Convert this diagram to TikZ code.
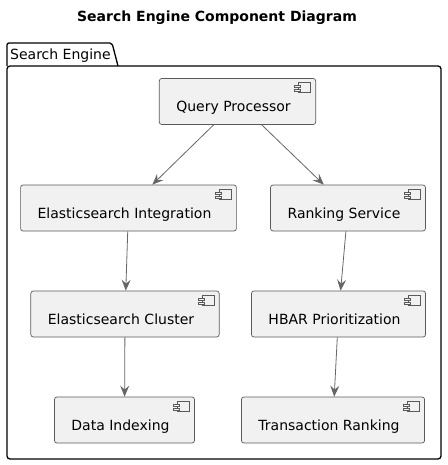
\documentclass[tikz,border=0pt]{standalone}
\usepackage{fontspec}
\setmainfont{DejaVu Sans}
\usepackage{xcolor}
\usepackage{tikz}
\usetikzlibrary{arrows.meta,positioning}
\definecolor{compfill}{HTML}{F1F1F1}
\definecolor{compline}{HTML}{5A5A5A}
\definecolor{arrline}{HTML}{666666}

\begin{document}
\begin{tikzpicture}[x=1pt, y=-1pt, every node/.style={font=\fontsize{14}{17}\selectfont},
  comp/.style={draw=compline, fill=compfill, line width=0.7pt, rounded corners=2.5pt,
    inner xsep=17pt, inner ysep=10pt, text height=23pt, text depth=3pt,
    execute at end node={\hspace*{8pt}},
    path picture={
      \draw[compline, fill=compfill, sharp corners, line width=0.6pt]
        ([shift={(-17pt,-4pt)}]path picture bounding box.north east) rectangle ++(12pt,-10pt);
      \draw[compline, fill=compfill, sharp corners, line width=0.6pt]
        ([shift={(-21pt,-7pt)}]path picture bounding box.north east) rectangle ++(6pt,-2pt)
        ([shift={(-21pt,-11pt)}]path picture bounding box.north east) rectangle ++(6pt,-2pt);
    }},
  arr/.style={-{Stealth[length=11pt, width=9pt, inset=4pt]}, arrline, line width=0.8pt}]
\useasboundingbox (0,0) rectangle (447,465);
\node[font=\fontsize{14}{17}\selectfont\bfseries] (title) at (217,18) {Search Engine Component Diagram};
\draw[line width=1.3pt, rounded corners=2pt] (7,66) -- (7,43) -- (112,43) -- (118,66);
\draw[line width=1.3pt, rounded corners=3pt] (7,66) rectangle (441,459);
\node[anchor=base west, inner sep=0pt] (pkg) at (10,60) {Search Engine};
\node[comp] (qp) at (237.5,101.5) {Query Processor};
\node[comp] (esi) at (128.5,208) {Elasticsearch Integration};
\node[comp] (rank) at (348,208) {Ranking Service};
\node[comp] (esc) at (125,314) {Elasticsearch Cluster};
\node[comp] (hbar) at (338.5,314) {HBAR Prioritization};
\node[comp] (idx) at (124.5,420) {Data Indexing};
\node[comp] (txr) at (333,420) {Transaction Ranking};
\draw[arr] (qp) -- (esi);
\draw[arr] (qp) -- (rank);
\draw[arr] (esi) -- (esc);
\draw[arr] (rank) -- (hbar);
\draw[arr] (esc) -- (idx);
\draw[arr] (hbar) -- (txr);
\end{tikzpicture}
\end{document}
